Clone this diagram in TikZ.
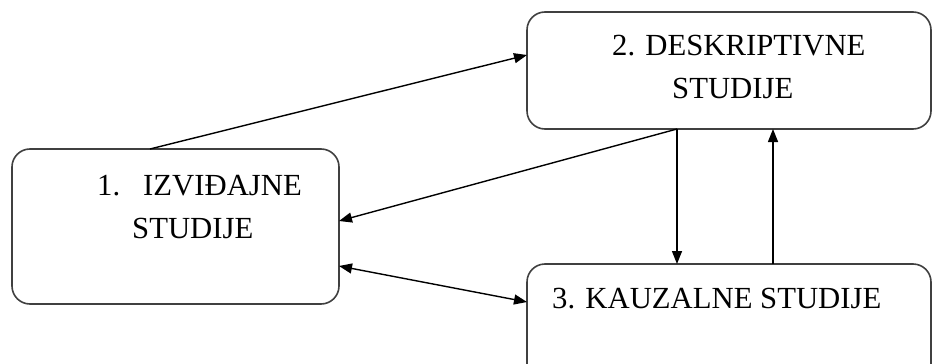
\documentclass[tikz,border=0pt]{standalone}
\usepackage{fontspec}
\setmainfont{Liberation Serif}
\usetikzlibrary{arrows.meta}
\begin{document}
\begin{tikzpicture}[x=1pt,y=-1pt,
  box/.style={draw=black!75,line width=1.6pt,rounded corners=18pt,inner sep=0pt,outer sep=0pt},
  lbl/.style={anchor=base west,inner sep=0pt,font=\fontsize{30.7}{43}\selectfont,text=black},
  conn/.style={line width=1.4pt,-{Triangle[length=13pt,width=10pt]}},
  conn2/.style={line width=1.4pt,{Triangle[length=13pt,width=10pt]}-{Triangle[length=13pt,width=10pt]}}]
\useasboundingbox (0,0) rectangle (932,364);
\node[box,minimum width=327pt,minimum height=155pt] (b1) at (175.5,226.5) {};
\node[box,minimum width=404pt,minimum height=117pt] (b2) at (729,70.5) {};
\node[box,minimum width=404pt,minimum height=126pt] (b3) at (729,327) {};
\node[lbl] (t1a) at (97,195) {1.\hspace{23pt}IZVIĐAJNE};
\node[lbl] (t1b) at (132,238) {STUDIJE};
\node[lbl] (t2a) at (612,55) {2. DESKRIPTIVNE};
\node[lbl] (t2b) at (672,98) {STUDIJE};
\node[lbl] (t3) at (552,308) {3. KAUZALNE STUDIJE};
\draw[conn] ([xshift=-25.5pt]b1.north) -- ([yshift=15.5pt]b2.west);
\draw[conn] ([xshift=-52pt]b2.south) -- ([yshift=5.5pt]b1.east);
\draw[conn] ([xshift=-52pt]b2.south) -- ([xshift=-52pt]b3.north);
\draw[conn] ([xshift=44pt]b3.north) -- ([xshift=44pt]b2.south);
\draw[conn2] ([yshift=-39.5pt]b1.east) -- ([yshift=25pt]b3.west);
\end{tikzpicture}
\end{document}
